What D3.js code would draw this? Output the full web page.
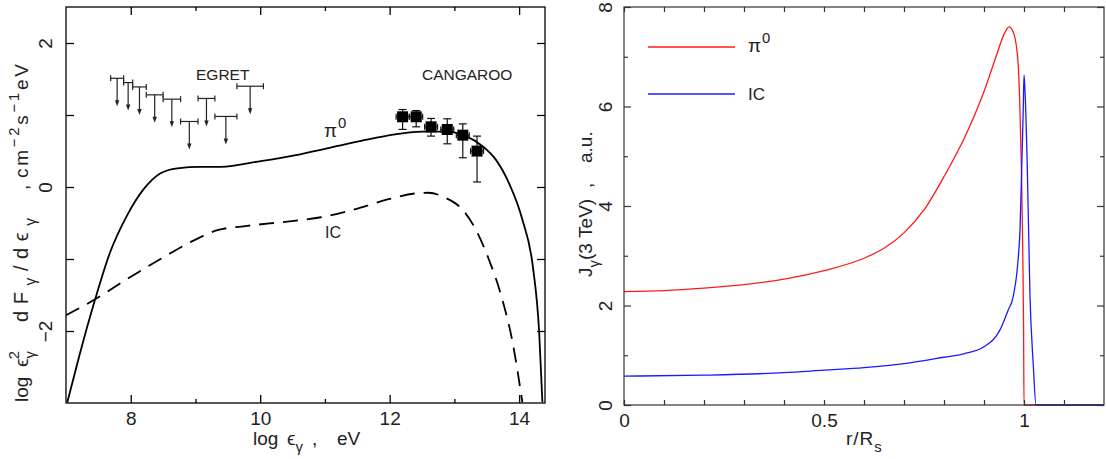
<!DOCTYPE html>
<html>
<head>
<meta charset="utf-8">
<script src="https://cdn.jsdelivr.net/npm/d3@7"></script>
<style>
body { margin: 0; background: #fff; }
text { font-family: "Liberation Sans", Arial, sans-serif; fill: #222; white-space: pre; }
</style>
</head>
<body>
<div class="chart"></div>
<script>
// ---- left panel: spectrum ----
const piX = [7.02, 7.21, 7.45, 7.68, 7.94, 8.20, 8.46, 8.72, 9.08, 9.39, 10.01, 10.53, 11.05, 11.56, 12.08, 12.50, 12.86, 13.17, 13.43, 13.64, 13.84, 14.05, 14.21, 14.31, 14.36];
const piY = [-2.99, -2.33, -1.56, -0.91, -0.40, -0.03, 0.19, 0.26, 0.28, 0.28, 0.36, 0.44, 0.54, 0.64, 0.73, 0.77, 0.77, 0.71, 0.57, 0.38, 0.06, -0.45, -1.09, -2.02, -2.99];
const icX = [7.0, 7.45, 7.94, 8.46, 8.87, 9.34, 9.80, 10.42, 10.94, 11.46, 11.98, 12.39, 12.60, 12.86, 13.12, 13.33, 13.53, 13.74, 13.90, 14.05];
const icY = [-1.78, -1.56, -1.28, -1.00, -0.79, -0.60, -0.54, -0.48, -0.42, -0.31, -0.17, -0.09, -0.08, -0.15, -0.31, -0.59, -1.00, -1.56, -2.16, -2.99];

// EGRET upper limits: energy bin edges and flux level
const egretLo = [7.69, 7.89, 8.03, 8.24, 8.50, 8.77, 9.04, 9.30, 9.64];
const egretHi = [7.89, 8.03, 8.24, 8.50, 8.77, 9.04, 9.30, 9.64, 10.05];
const egretY  = [1.51, 1.45, 1.39, 1.28, 1.22, 0.91, 1.23, 0.98, 1.40];

// CANGAROO points
const cangX  = [12.20, 12.41, 12.64, 12.89, 13.13, 13.35];
const cangY  = [0.975, 0.975, 0.836, 0.799, 0.72, 0.499];
const cangHi = [1.076, 1.062, 0.952, 0.947, 0.877, 0.707];
const cangLo = [0.80, 0.836, 0.707, 0.600, 0.406, 0.07];
const cangDx = 0.1;

const leftXMajor = [8, 10, 12, 14];
const leftXMinor = [9, 11, 13];
const leftYMajor = [-2, 0, 2];
const leftYMinor = [-1, 1];

// ---- right panel: radial profiles ----
const redX = [0, 0.1, 0.2, 0.3, 0.4, 0.5, 0.6, 0.65, 0.7, 0.75, 0.8, 0.85, 0.9, 0.93, 0.95, 0.963, 0.975, 0.985, 0.99, 0.994, 0.997, 0.999, 1.0, 1.2];
const redY = [2.28, 2.30, 2.35, 2.42, 2.53, 2.70, 2.95, 3.15, 3.46, 3.92, 4.59, 5.35, 6.3, 7.0, 7.45, 7.6, 7.45, 6.9, 5.9, 4.6, 3.0, 1.5, 0, 0];
const blueX = [0, 0.2, 0.4, 0.5, 0.6, 0.7, 0.8, 0.85, 0.9, 0.94, 0.96, 0.973, 0.985, 0.99, 0.995, 0.998, 1.0, 1.002, 1.008, 1.015, 1.023, 1.03, 1.2];
const blueY = [0.58, 0.60, 0.65, 0.70, 0.75, 0.83, 0.96, 1.03, 1.17, 1.51, 1.9, 2.18, 2.9, 3.52, 5.0, 5.9, 6.63, 6.4, 4.86, 2.18, 0.84, 0, 0];

const rightXMajor = [0, 0.5, 1];
const rightXMinor = [0.1, 0.2, 0.3, 0.4, 0.6, 0.7, 0.8, 0.9, 1.1];
const rightYMajor = [0, 2, 4, 6, 8];
const rightYMinor = [1, 3, 5, 7];

const svg = d3.select('.chart').append('svg')
	.attr('width', 1106)
	.attr('height', 459);

// write text with sub/superscripts, parts = [text, kind, dx]
function rich(t, parts, fs, len) {
	let cur = 0;
	parts.forEach(p => {
		const k = p[1];
		const off = k === 'sub' ? fs * 0.38 : k === 'sup' ? -fs * 0.5 : 0;
		t.append('tspan')
			.attr('dy', off - cur)
			.attr('dx', p[2] || 0)
			.attr('font-size', k === 'n' ? fs : fs * 0.78)
			.text(p[0]);
		cur = off;
	});
	if (len) t.attr('textLength', len).attr('lengthAdjust', 'spacing');
	return t;
}

// a vertical (rotated) piece of a label, starting at y0 and reading upwards
function vpiece(x, y0, parts, fs, len) {
	return rich(svg.append('text').attr('transform', `translate(${x},${y0}) rotate(-90)`), parts, fs, len);
}

// frame with inward ticks on all four sides
function frame(x, y, o) {
	const g = svg.append('g');
	const [x0, x1] = x.range();
	const [y1, y0] = y.range();
	const fmt = o.fmt;
	g.append('g').attr('transform', `translate(0,${y1})`)
		.call(d3.axisBottom(x).tickValues(o.xMaj).tickSize(-o.xMajLen).tickPadding(o.xPad).tickFormat(fmt));
	g.append('g').attr('transform', `translate(0,${y1})`)
		.call(d3.axisBottom(x).tickValues(o.xMin).tickSize(-o.xMinLen).tickFormat(''));
	g.append('g').attr('transform', `translate(0,${y0})`)
		.call(d3.axisTop(x).tickValues(o.xMaj).tickSize(-o.xMajLen).tickFormat(''));
	g.append('g').attr('transform', `translate(0,${y0})`)
		.call(d3.axisTop(x).tickValues(o.xMin).tickSize(-o.xMinLen).tickFormat(''));
	const ly = g.append('g').attr('transform', `translate(${x0},0)`)
		.call(d3.axisLeft(y).tickValues(o.yMaj).tickSize(-o.yMajLen).tickFormat(d => d < 0 ? '\u2212' + (-d) : d));
	g.append('g').attr('transform', `translate(${x0},0)`)
		.call(d3.axisLeft(y).tickValues(o.yMin).tickSize(-o.yMinLen).tickFormat(''));
	g.append('g').attr('transform', `translate(${x1},0)`)
		.call(d3.axisRight(y).tickValues(o.yMaj).tickSize(-o.yMajLen).tickFormat(''));
	g.append('g').attr('transform', `translate(${x1},0)`)
		.call(d3.axisRight(y).tickValues(o.yMin).tickSize(-o.yMinLen).tickFormat(''));
	// rotated y tick labels
	ly.selectAll('text')
		.attr('x', null).attr('dy', null)
		.attr('text-anchor', 'middle')
		.attr('transform', `translate(${-o.yPad},0) rotate(-90)`);
	g.selectAll('text').attr('font-size', 19).attr('font-family', null).style('fill', '#222');
	g.selectAll('.domain').remove();
	g.selectAll('line').style('stroke', o.col).style('stroke-width', o.lw);
	g.append('rect')
		.attr('x', x0).attr('y', y0)
		.attr('width', x1 - x0).attr('height', y1 - y0)
		.style('fill', 'none').style('stroke', o.col).style('stroke-width', o.lw);
}

// ================= left panel =================
const xL = d3.scaleLinear().domain([7, 14.4]).range([66, 545]);
const yL = d3.scaleLinear().domain([-3, 2.5]).range([403, 7]);

svg.append('clipPath').attr('id', 'clipL').append('rect')
	.attr('x', 66).attr('y', 7).attr('width', 479).attr('height', 396);

const lineL = d3.line().x(d => xL(d[0])).y(d => yL(d[1])).curve(d3.curveMonotoneX);

svg.append('path')
	.attr('d', lineL(d3.zip(piX, piY)))
	.attr('clip-path', 'url(#clipL)')
	.style('fill', 'none').style('stroke', '#000').style('stroke-width', 1.8);

svg.append('path')
	.attr('d', lineL(d3.zip(icX, icY)))
	.attr('clip-path', 'url(#clipL)')
	.style('fill', 'none').style('stroke', '#000').style('stroke-width', 1.8)
	.style('stroke-dasharray', '15,9');

// EGRET upper limits
const eg = svg.append('g').style('stroke', '#222').style('stroke-width', 1.2);
egretY.forEach((v, i) => {
	const a = xL(egretLo[i]), b = xL(egretHi[i]), yy = yL(v);
	const m = (a + b) / 2, tip = yy + 28;
	eg.append('line').attr('x1', a).attr('x2', b).attr('y1', yy).attr('y2', yy);
	eg.append('line').attr('x1', a).attr('x2', a).attr('y1', yy - 3).attr('y2', yy + 3);
	eg.append('line').attr('x1', b).attr('x2', b).attr('y1', yy - 3).attr('y2', yy + 3);
	eg.append('line').attr('x1', m).attr('x2', m).attr('y1', yy).attr('y2', tip - 4);
	eg.append('path')
		.attr('d', `M${m - 2.2},${tip - 6}L${m + 2.2},${tip - 6}L${m},${tip}Z`)
		.style('fill', '#222').style('stroke', 'none');
});

// CANGAROO data
const cg = svg.append('g').style('stroke', '#111').style('stroke-width', 1.2);
cangY.forEach((v, i) => {
	const cx = xL(cangX[i]), cy = yL(v);
	const hi = yL(cangHi[i]), lo = yL(cangLo[i]);
	const a = xL(cangX[i] - cangDx), b = xL(cangX[i] + cangDx);
	cg.append('line').attr('x1', cx).attr('x2', cx).attr('y1', hi).attr('y2', lo);
	cg.append('line').attr('x1', cx - 4).attr('x2', cx + 4).attr('y1', hi).attr('y2', hi);
	cg.append('line').attr('x1', cx - 4).attr('x2', cx + 4).attr('y1', lo).attr('y2', lo);
	cg.append('line').attr('x1', a).attr('x2', b).attr('y1', cy).attr('y2', cy);
	cg.append('line').attr('x1', a).attr('x2', a).attr('y1', cy - 3).attr('y2', cy + 3);
	cg.append('line').attr('x1', b).attr('x2', b).attr('y1', cy - 3).attr('y2', cy + 3);
	cg.append('rect').attr('x', cx - 5.5).attr('y', cy - 5.5).attr('width', 11).attr('height', 11)
		.style('fill', '#000').style('stroke', 'none');
});

frame(xL, yL, {
	xMaj: leftXMajor, xMin: leftXMinor, yMaj: leftYMajor, yMin: leftYMinor,
	xMajLen: 8, xMinLen: 4, yMajLen: 8, yMinLen: 8,
	xPad: 9, yPad: 14, col: '#000', lw: 1.3, fmt: d3.format('d')
});

svg.append('text').attr('x', 196).attr('y', 80).attr('font-size', 15.5).text('EGRET');
svg.append('text').attr('x', 422).attr('y', 80).attr('font-size', 15.5).text('CANGAROO');
rich(svg.append('text').attr('x', 324).attr('y', 137), [['\u03c0', 'n'], ['0', 'sup', 1]], 19);
svg.append('text').attr('x', 325).attr('y', 238).attr('font-size', 16).text('IC');

// x title, left
svg.append('text').attr('x', 253).attr('y', 445).attr('font-size', 19).text('log');
rich(svg.append('text').attr('x', 287).attr('y', 445), [['\u03f5', 'n'], ['\u03b3', 'sub']], 19);
svg.append('text').attr('x', 312).attr('y', 445).attr('font-size', 19).text(',');
svg.append('text').attr('x', 337).attr('y', 445).attr('font-size', 19).text('eV');

// y title, left (pieces placed along the axis)
const tx = 28;
vpiece(tx, 402, [['log', 'n']], 19);
vpiece(tx, 367, [['\u03f5', 'n'], ['\u03b3', 'sub'], ['2', 'sup', -8]], 19);
vpiece(tx, 322, [['dF', 'n'], ['\u03b3', 'sub'], ['/d\u03f5', 'n'], ['\u03b3', 'sub']], 20, 104);
vpiece(tx, 190, [[',', 'n']], 19);
vpiece(tx, 178, [['cm', 'n'], ['\u22122', 'sup'], ['s', 'n'], ['\u22121', 'sup'], ['eV', 'n']], 19, 114);

// ================= right panel =================
const xR = d3.scaleLinear().domain([0, 1.2]).range([624, 1104]);
const yR = d3.scaleLinear().domain([0, 8]).range([405, 7]);

const lineR = d3.line().x(d => xR(d[0])).y(d => yR(d[1])).curve(d3.curveMonotoneX);

svg.append('path')
	.attr('d', lineR(d3.zip(redX, redY)))
	.style('fill', 'none').style('stroke', '#ff1a1a').style('stroke-width', 1.3);
svg.append('path')
	.attr('d', lineR(d3.zip(blueX, blueY)))
	.style('fill', 'none').style('stroke', '#1a1aff').style('stroke-width', 1.3);

frame(xR, yR, {
	xMaj: rightXMajor, xMin: rightXMinor, yMaj: rightYMajor, yMin: rightYMinor,
	xMajLen: 5, xMinLen: 5, yMajLen: 7, yMinLen: 4,
	xPad: 9, yPad: 12, col: '#333', lw: 1.2, fmt: d => d
});

// legend
svg.append('line').attr('x1', 648).attr('x2', 735).attr('y1', 47).attr('y2', 47)
	.style('stroke', '#ff1a1a').style('stroke-width', 1.3);
svg.append('line').attr('x1', 648).attr('x2', 735).attr('y1', 94).attr('y2', 94)
	.style('stroke', '#1a1aff').style('stroke-width', 1.3);
rich(svg.append('text').attr('x', 748).attr('y', 52), [['\u03c0', 'n'], ['0', 'sup', 1]], 19);
svg.append('text').attr('x', 748).attr('y', 100).attr('font-size', 17).text('IC');

rich(svg.append('text').attr('x', 846).attr('y', 445).style('letter-spacing', '1px'),
	[['r/R', 'n'], ['s', 'sub']], 19);
const rx = 592;
vpiece(rx, 277, [['J', 'n'], ['\u03b3', 'sub'], ['(3 TeV)', 'n']], 19);
vpiece(rx, 188, [[',', 'n']], 19);
vpiece(rx, 163, [['a.u.', 'n']], 19);
</script>
</body>
</html>
